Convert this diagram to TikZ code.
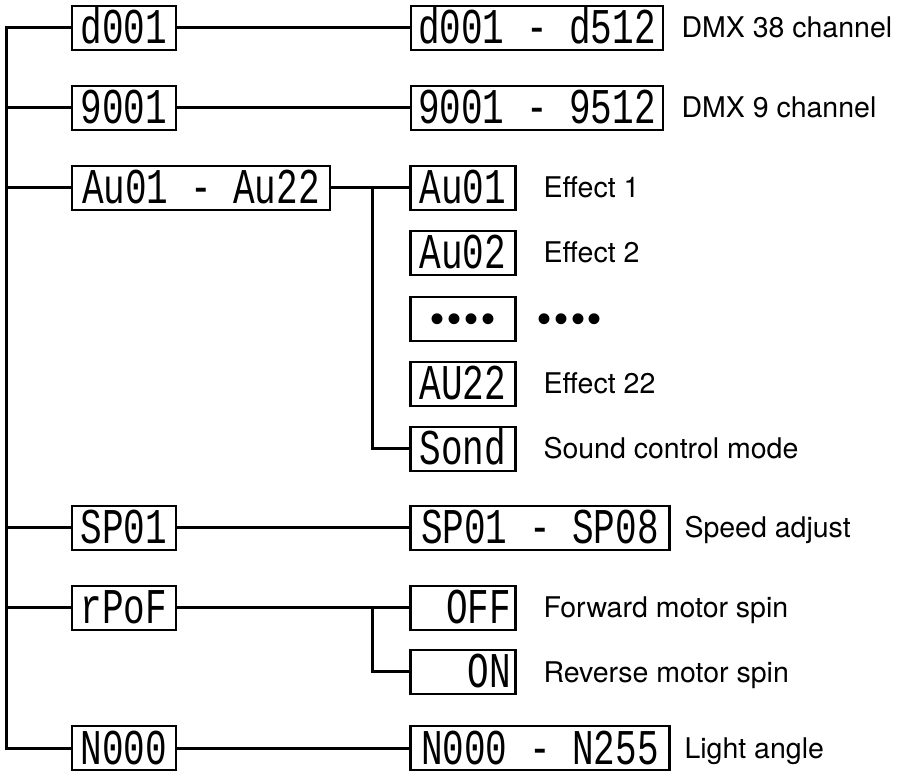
\documentclass[tikz,border=0pt]{standalone}
\usepackage{fontspec}
\setmainfont{TeX Gyre Heros}
\newfontfamily\segfont[FakeStretch=0.72]{Liberation Mono}
\newfontfamily\dotfont[LetterSpace=7]{Liberation Sans}
\begin{document}
\begin{tikzpicture}[x=1pt, y=-1pt, line width=3pt,
  seg/.style={draw, line width=2.8pt, minimum height=44pt, inner sep=0pt,
    text height=32pt, text depth=0pt, font=\segfont\fontsize{50}{50}\selectfont},
  dots/.style={text height=28pt, font=\dotfont\fontsize{40}{40}\selectfont},
  lab/.style={anchor=west, inner sep=0pt, text height=20pt, text depth=0pt,
    font=\fontsize{28.5}{32}\selectfont}]
  \useasboundingbox (0,0) rectangle (898,775);
  % left column
  \node[seg, minimum width=104pt] (d) at (124,28) {d001};
  \node[seg, minimum width=104pt] (g) at (124,108) {9001};
  \node[seg, minimum width=258pt] (au) at (201,188) {Au01 - Au22};
  \node[seg, minimum width=104pt] (sp) at (124,528) {SP01};
  \node[seg, minimum width=104pt] (rp) at (124,608) {rPoF};
  \node[seg, minimum width=104pt] (n) at (124,748) {N000};
  % right column
  \node[seg, minimum width=252pt] (dr) at (537,28) {d001 - d512};
  \node[seg, minimum width=252pt] (gr) at (537,108) {9001 - 9512};
  \node[seg, minimum width=105pt] (a1) at (463,188) {Au01};
  \node[seg, minimum width=105pt] (a2) at (463,253) {Au02};
  \node[seg, dots, minimum width=105pt] (ax) at (463,319) {••••};
  \node[seg, minimum width=105pt] (a22) at (463,384) {AU22};
  \node[seg, minimum width=105pt] (snd) at (463,449) {Sond};
  \node[seg, minimum width=259pt] (spr) at (540,528) {SP01 - SP08};
  \node[seg, text width=96pt, align=right, minimum width=105pt] (off) at (463,608) {OFF};
  \node[seg, text width=96pt, align=right, minimum width=105pt] (on) at (463,672) {ON};
  \node[seg, minimum width=259pt] (nr) at (540,748) {N000 - N255};
  % labels
  \node[lab] (dl) at (680,28) {DMX 38 channel};
  \node[lab] (gl) at (680,108) {DMX 9 channel};
  \node[lab] (a1l) at (542,188) {Effect 1};
  \node[lab] (a2l) at (542,253) {Effect 2};
  \node[lab, dots] (axl) at (536,319) {••••};
  \node[lab] (a22l) at (542,384) {Effect 22};
  \node[lab] (sndl) at (542,449) {Sound control mode};
  \node[lab] (spl) at (683,528) {Speed adjust};
  \node[lab] (offl) at (542,608) {Forward motor spin};
  \node[lab] (onl) at (542,672) {Reverse motor spin};
  \node[lab] (nl) at (683,748) {Light angle};
  % trunk
  \coordinate (trunk) at (6,28);
  \draw (d.west) -- (trunk) |- (n.west);
  \foreach \b in {g,au,sp,rp}
    \draw (\b.west) -- (\b.west -| trunk);
  % branches
  \draw (d.east) -- (dr.west);
  \draw (g.east) -- (gr.west);
  \draw (sp.east) -- (spr.west);
  \draw (n.east) -- (nr.west);
  \coordinate (fa) at (372,188);
  \draw (au.east) -- (a1.west);
  \draw (fa) |- (snd.west);
  \coordinate (fr) at (372,608);
  \draw (rp.east) -- (off.west);
  \draw (fr) |- (on.west);
\end{tikzpicture}
\end{document}
